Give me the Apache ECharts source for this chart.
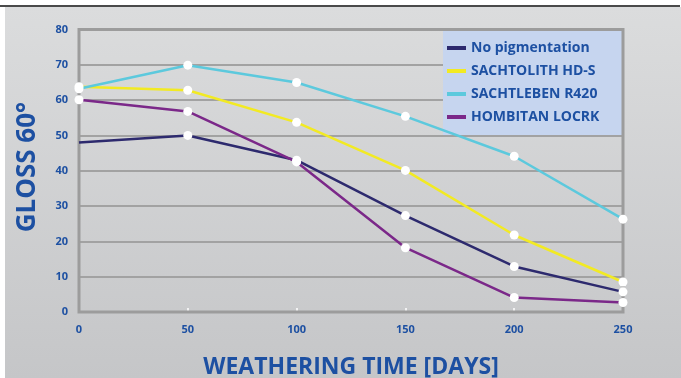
<!DOCTYPE html>
<html><head><meta charset="utf-8">
<script src="https://cdn.jsdelivr.net/npm/echarts@6/dist/echarts.min.js"></script>
<style>html,body{margin:0;padding:0;background:#fff}#c{width:681px;height:378px}</style>
</head><body><div id="c"></div>
<script>
const days = [0, 50, 100, 150, 200, 250];
const yTicks = [0, 10, 20, 30, 40, 50, 60, 70, 80];
const seriesNames = ['No pigmentation', 'SACHTOLITH HD-S', 'SACHTLEBEN R420', 'HOMBITAN LOCRK'];
const noPigmentation = [48, 50, 43, 27.3, 12.9, 5.7];
const sachtolith = [63.8, 62.8, 53.7, 40.1, 21.8, 8.5];
const sachtleben = [63.2, 69.9, 65, 55.4, 44.1, 26.3];
const hombitan = [60.1, 56.8, 42.5, 18.2, 4.1, 2.7];
const colors = ['#2d2a6e', '#f2ea23', '#5cc9dd', '#7b2889'];
const allValues = [noPigmentation, sachtolith, sachtleben, hombitan];

const blue = '#1d50a2';
const chart = echarts.init(document.getElementById('c'), null, {renderer: 'canvas'});

const series = allValues.map((vals, i) => ({
  name: seriesNames[i],
  type: 'line',
  z: 3,
  data: vals.map((v, j) => {
    const item = {value: [days[j], v]};
    if (i === 0 && j === 0) item.symbol = 'none';
    return item;
  }),
  symbol: 'circle',
  symbolSize: 9,
  showSymbol: true,
  itemStyle: {color: '#ffffff', borderWidth: 0},
  lineStyle: {color: colors[i], width: 2.5},
  emphasis: {disabled: true},
  animation: false
}));

chart.setOption({
  animation: false,
  backgroundColor: '#ffffff',
  graphic: [
    {type: 'rect', z: -10, shape: {x: 5, y: 7, width: 676, height: 371},
      style: {fill: new echarts.graphic.LinearGradient(0, 0, 0, 1, [
        {offset: 0, color: '#dbdcdd'}, {offset: 1, color: '#c5c6c8'}])}},
    {type: 'rect', z: -9, shape: {x: 0, y: 5, width: 680, height: 2}, style: {fill: '#4a4a4a'}},
    {type: 'rect', z: 1, shape: {x: 443, y: 29, width: 180, height: 106}, style: {fill: '#c6d5ef'}},
    {type: 'text', z: 5, x: 28, y: 167, rotation: Math.PI / 2,
      style: {text: 'GLOSS 60°', fill: blue, font: 'bold 26px "Open Sans"', align: 'center', verticalAlign: 'middle'}},
    {type: 'text', z: 5, x: 351, y: 367,
      style: {text: 'WEATHERING TIME [DAYS]', fill: blue, font: 'bold 23px "Open Sans"', align: 'center', verticalAlign: 'middle'}}
  ],
  legend: {
    left: 443, top: 29,
    orient: 'vertical',
    padding: [12, 20, 12, 4],
    itemGap: 9,
    itemWidth: 19, itemHeight: 4,
    icon: 'rect',
    z: 4,
    data: seriesNames.map((n, i) => ({name: n, itemStyle: {color: colors[i]}})),
    textStyle: {color: blue, fontFamily: 'Open Sans', fontWeight: 'bold', fontSize: 14},
    selectedMode: false
  },
  grid: {left: 79, right: 58, top: 29.5, bottom: 66, show: true, z: 2,
    borderColor: '#9c9c9c', borderWidth: 3, backgroundColor: 'transparent'},
  xAxis: {
    type: 'value', min: 0, max: 250, interval: 50,
    axisLine: {show: false},
    axisTick: {show: true, inside: true, length: 4, lineStyle: {color: '#ffffff', width: 1.5}},
    splitLine: {show: false},
    axisLabel: {color: blue, fontFamily: 'Open Sans', fontWeight: 'bold', fontSize: 11, margin: 12,
      formatter: v => days.includes(v) ? String(v) : ''}
  },
  yAxis: {
    type: 'value', min: 0, max: 80, interval: 10,
    axisLine: {show: false},
    axisTick: {show: false},
    splitLine: {show: true, lineStyle: {color: '#a2a2a2', width: 2}},
    axisLabel: {color: blue, fontFamily: 'Open Sans', fontWeight: 'bold', fontSize: 11, margin: 11,
      formatter: v => yTicks.includes(v) ? String(v) : ''}
  },
  series: series
});
</script></body></html>
